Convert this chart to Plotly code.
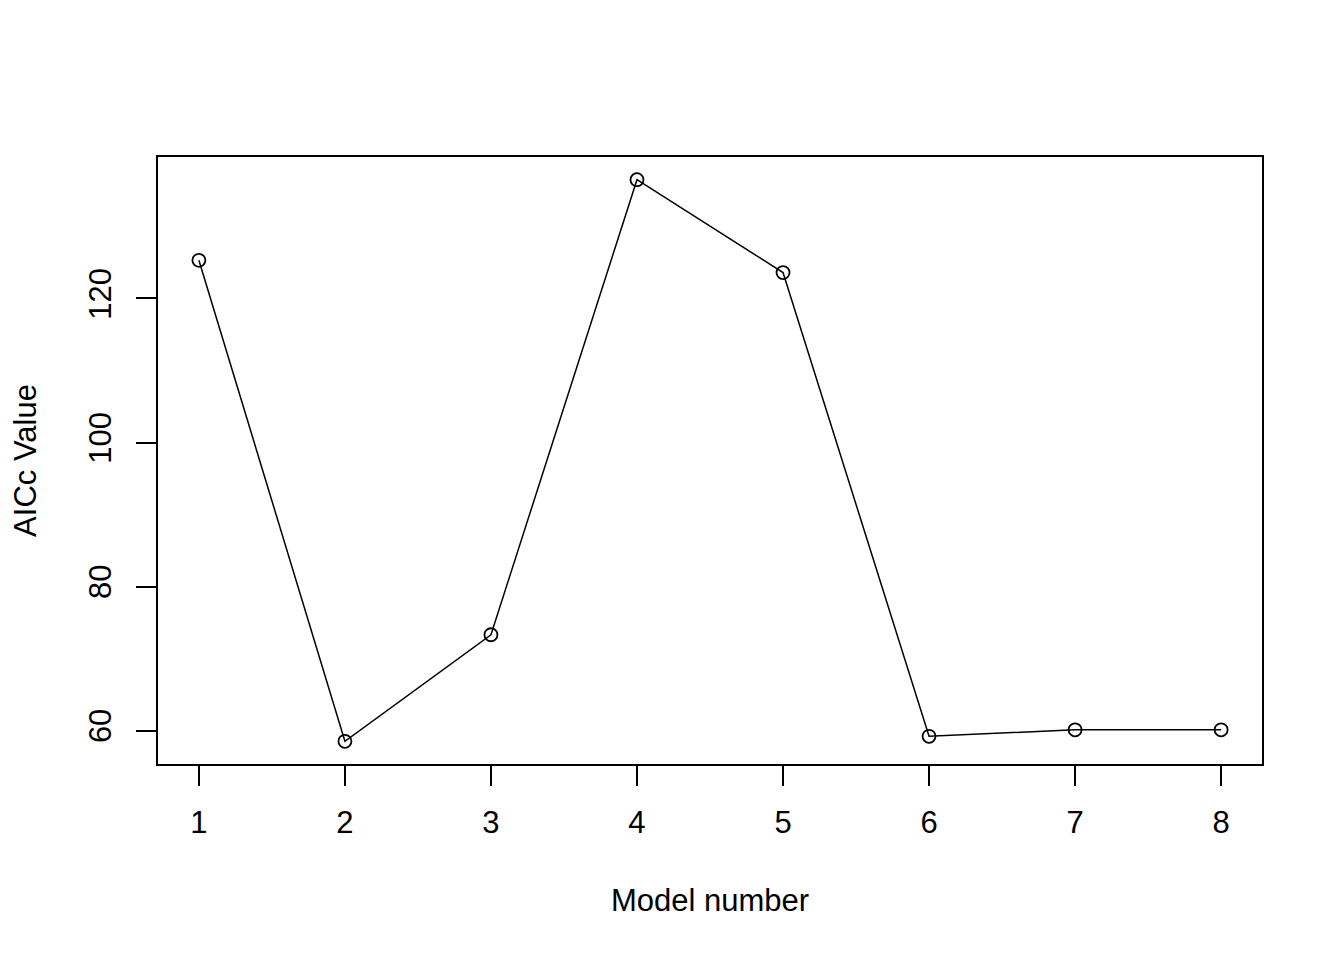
import plotly.graph_objects as go

models = [1, 2, 3, 4, 5, 6, 7, 8]
aicc = [125.3, 58.5, 73.3, 136.5, 123.6, 59.2, 60.1, 60.1]
x_ticks = [1, 2, 3, 4, 5, 6, 7, 8]
y_ticks = [60, 80, 100, 120]

fig = go.Figure()
fig.add_trace(go.Scatter(
    x=models, y=aicc, mode="lines+markers",
    line=dict(color="black", width=1.5),
    marker=dict(symbol="circle-open", size=13, color="black", line=dict(width=1.8)),
    showlegend=False,
))

font = dict(family="Liberation Sans, Arial", size=31, color="black")
fig.update_layout(
    width=1336, height=952,
    paper_bgcolor="white", plot_bgcolor="white",
    margin=dict(l=150, r=82, t=149, b=196, autoexpand=False),
    font=font,
)
fig.update_xaxes(
    range=[0.72, 8.28], tickvals=x_ticks, ticks="outside", ticklen=20, tickwidth=1.8,
    tickcolor="black", showline=True, linecolor="black", linewidth=1.8, mirror=True,
    showgrid=False, zeroline=False, tickfont=font, ticklabelstandoff=10, automargin=False,
    title=dict(text="Model number", font=font, standoff=50),
)
fig.update_yaxes(
    range=[55.35, 139.65], tickvals=y_ticks, ticks="outside", ticklen=20, tickwidth=1.8,
    tickcolor="black", showline=True, linecolor="black", linewidth=1.8, mirror=True,
    showgrid=False, zeroline=False, tickangle=-90, tickfont=font, ticklabelstandoff=13,
    automargin=False,
    title=dict(text="AICc Value", font=font, standoff=40),
)
fig.write_html("out.html")
